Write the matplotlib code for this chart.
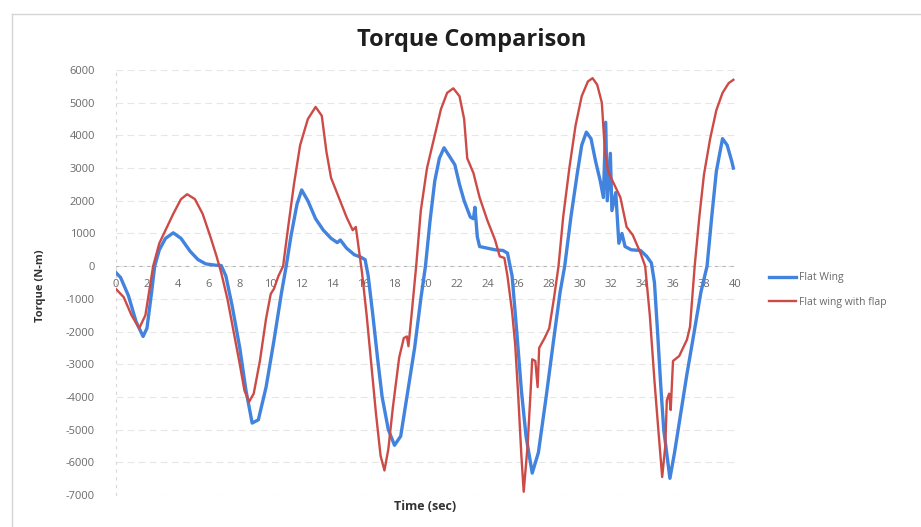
import numpy as np
import matplotlib.pyplot as plt
from matplotlib.lines import Line2D

# Flat Wing (time in sec, torque in N-m)
t_flat = [0, 0.3, 0.8, 1.3, 1.75, 2.0, 2.3, 2.5, 2.8, 3.2, 3.7, 4.2, 4.8, 5.3, 5.8, 6.4, 6.8,
          7.1, 7.5, 8.0, 8.4, 8.8, 9.2, 9.7, 10.2, 10.7, 11.0, 11.3, 11.7, 12.0, 12.4, 12.9,
          13.4, 13.9, 14.3, 14.5, 14.9, 15.4, 15.8, 16.1, 16.3, 16.6, 16.9, 17.2, 17.6, 18.0,
          18.4, 18.8, 19.3, 19.7, 20.0, 20.3, 20.6, 20.9, 21.2, 21.5, 21.9, 22.2, 22.5, 22.9,
          23.1, 23.2, 23.35, 23.5, 24.0, 24.5, 25.0, 25.3, 25.6, 25.9, 26.2, 26.5, 26.9, 27.3,
          27.8, 28.3, 28.7, 29.0, 29.4, 29.8, 30.1, 30.4, 30.7, 31.0, 31.3, 31.5, 31.65, 31.75,
          31.95, 32.05, 32.3, 32.5, 32.7, 32.9, 33.3, 33.9, 34.3, 34.6, 34.8, 35.0, 35.2, 35.4,
          35.8, 36.1, 36.5, 36.9, 37.3, 37.8, 38.2, 38.5, 38.8, 39.2, 39.5, 39.8, 39.9]
flat_wing = [-200, -350, -900, -1700, -2150, -1900, -800, 0, 500, 850, 1020, 850, 450, 200, 70,
             30, 20, -300, -1200, -2500, -3800, -4800, -4700, -3700, -2300, -800, 0, 900, 1900,
             2330, 2000, 1450, 1100, 850, 720, 800, 550, 350, 280, 200, -300, -1500, -2800,
             -4000, -5000, -5480, -5200, -4000, -2500, -1000, 0, 1400, 2600, 3300, 3620, 3400,
             3100, 2500, 2000, 1500, 1450, 1800, 900, 600, 550, 500, 480, 400, -300, -2000,
             -3800, -5200, -6330, -5700, -4000, -2200, -800, 0, 1500, 2800, 3700, 4100, 3900,
             3200, 2600, 2100, 4400, 2000, 3450, 1700, 2250, 700, 1000, 600, 500, 480, 300, 100,
             -500, -2000, -3600, -5000, -6490, -5700, -4500, -3300, -2200, -800, 0, 1500, 2900,
             3900, 3700, 3200, 3000]

# Flat wing with flap
t_flap = [0, 0.5, 1.0, 1.5, 1.9, 2.2, 2.4, 2.8, 3.3, 3.7, 4.2, 4.6, 5.1, 5.6, 6.1, 6.5, 6.8,
          7.2, 7.6, 8.0, 8.3, 8.6, 8.9, 9.3, 9.7, 10.0, 10.2, 10.5, 10.8, 11.1, 11.5, 11.9,
          12.4, 12.9, 13.3, 13.6, 13.9, 14.4, 14.9, 15.3, 15.5, 15.7, 15.9, 16.2, 16.5, 16.8,
          17.1, 17.35, 17.6, 17.9, 18.3, 18.6, 18.8, 18.9, 19.1, 19.4, 19.7, 20.1, 20.5, 21.0,
          21.4, 21.8, 22.2, 22.5, 22.7, 23.1, 23.5, 24.0, 24.5, 24.8, 25.1, 25.3, 25.6, 25.8,
          26.0, 26.2, 26.35, 26.6, 26.8, 26.9, 27.1, 27.25, 27.35, 27.7, 28.0, 28.3, 28.6,
          28.9, 29.3, 29.7, 30.1, 30.5, 30.8, 31.1, 31.4, 31.6, 31.8, 32.2, 32.6, 33.0, 33.4,
          33.9, 34.2, 34.5, 34.8, 35.05, 35.3, 35.5, 35.6, 35.75, 35.85, 36.0, 36.4, 36.9,
          37.1, 37.4, 37.7, 38.0, 38.4, 38.8, 39.2, 39.6, 39.9]
flat_flap = [-700, -950, -1500, -1900, -1500, -600, 0, 700, 1200, 1600, 2050, 2200, 2050, 1600,
             900, 300, -200, -1000, -2000, -3000, -3800, -4150, -3900, -2900, -1600, -850, -700,
             -300, 0, 1100, 2500, 3700, 4500, 4870, 4600, 3500, 2700, 2100, 1500, 1100, 1200,
             500, -200, -1500, -3000, -4500, -5800, -6250, -5600, -4300, -2800, -2200, -2150,
             -2450, -1500, 0, 1700, 3000, 3800, 4800, 5300, 5440, 5200, 4500, 3300, 2850, 2100,
             1400, 800, 300, 250, -300, -1400, -2400, -4000, -5800, -6900, -5500, -3800, -2850,
             -2900, -3700, -2500, -2200, -1900, -1000, 0, 1500, 3000, 4300, 5200, 5650, 5750,
             5550, 5000, 3500, 2900, 2500, 2100, 1200, 950, 400, 0, -1500, -3500, -5000, -6450,
             -5500, -4100, -3900, -4400, -2900, -2750, -2250, -1850, 0, 1500, 2800, 3900, 4770,
             5300, 5600, 5700]

x_ticks = np.arange(0, 41, 2)
y_ticks = np.arange(-7000, 6001, 1000)

blue = '#4283de'
red = '#cc4b46'
grey = '#6a6a6a'
plt.rcParams['font.family'] = ['Open Sans', 'DejaVu Sans']
plt.rcParams['axes.unicode_minus'] = False

fig = plt.figure(figsize=(9.21, 5.27), dpi=100)
ax = fig.add_axes([116 / 921, 1 - 495 / 527, (738 - 116) / 921, (495 - 70) / 527])

ax.plot(t_flat, flat_wing, color=blue, lw=2.4, label='Flat Wing', zorder=3)
ax.plot(t_flap, flat_flap, color=red, lw=1.7, label='Flat wing with flap', zorder=4)

ax.set_xlim(0, 40.2)
ax.set_ylim(-7000, 6000)
ax.set_xticks(x_ticks)
ax.set_yticks(y_ticks)
ax.tick_params(axis='both', length=0, labelsize=8, labelcolor=grey)
ax.tick_params(axis='y', pad=15)
ax.tick_params(axis='x', pad=9)

ax.grid(axis='y', color='#e6e6e6', lw=0.8, ls=(0, (6, 4)))
ax.set_axisbelow(True)
for s in ['top', 'right']:
    ax.spines[s].set_visible(False)
ax.spines['bottom'].set_position(('data', 0))
ax.spines['bottom'].set_color('#b8b8b8')
ax.spines['bottom'].set_linestyle((0, (2, 5)))
ax.spines['left'].set_color('#d8d8d8')
ax.spines['left'].set_linestyle((0, (2, 5)))

fig.text(472 / 921, 1 - 40 / 527, 'Torque Comparison', ha='center', va='center',
         fontsize=17, fontweight='bold', color='#1e1e1e')
fig.text(40 / 921, 1 - 286 / 527, 'Torque (N-m)', rotation=90, ha='center', va='center',
         fontsize=8, fontweight='bold', color='#333333')
fig.text(425 / 921, 1 - 507 / 527, 'Time (sec)', ha='center', va='center',
         fontsize=9, fontweight='bold', color='#333333')

handles = [Line2D([], [], color=blue, lw=2.4), Line2D([], [], color=red, lw=1.7)]
fig.legend(handles, ['Flat Wing', 'Flat wing with flap'], loc='upper left',
           bbox_to_anchor=(765 / 921, 1 - 268 / 527), frameon=False, fontsize=7.5,
           labelcolor=grey, handlelength=2.6, handletextpad=0.3, labelspacing=1.3,
           borderaxespad=0)

# outer chart border
fig.add_artist(Line2D([12 / 921, 1], [1 - 14 / 527] * 2, color='#d5d5d5', lw=1))
fig.add_artist(Line2D([12 / 921] * 2, [0, 1 - 14 / 527], color='#d5d5d5', lw=1))

fig.savefig('out.png', dpi=100)
